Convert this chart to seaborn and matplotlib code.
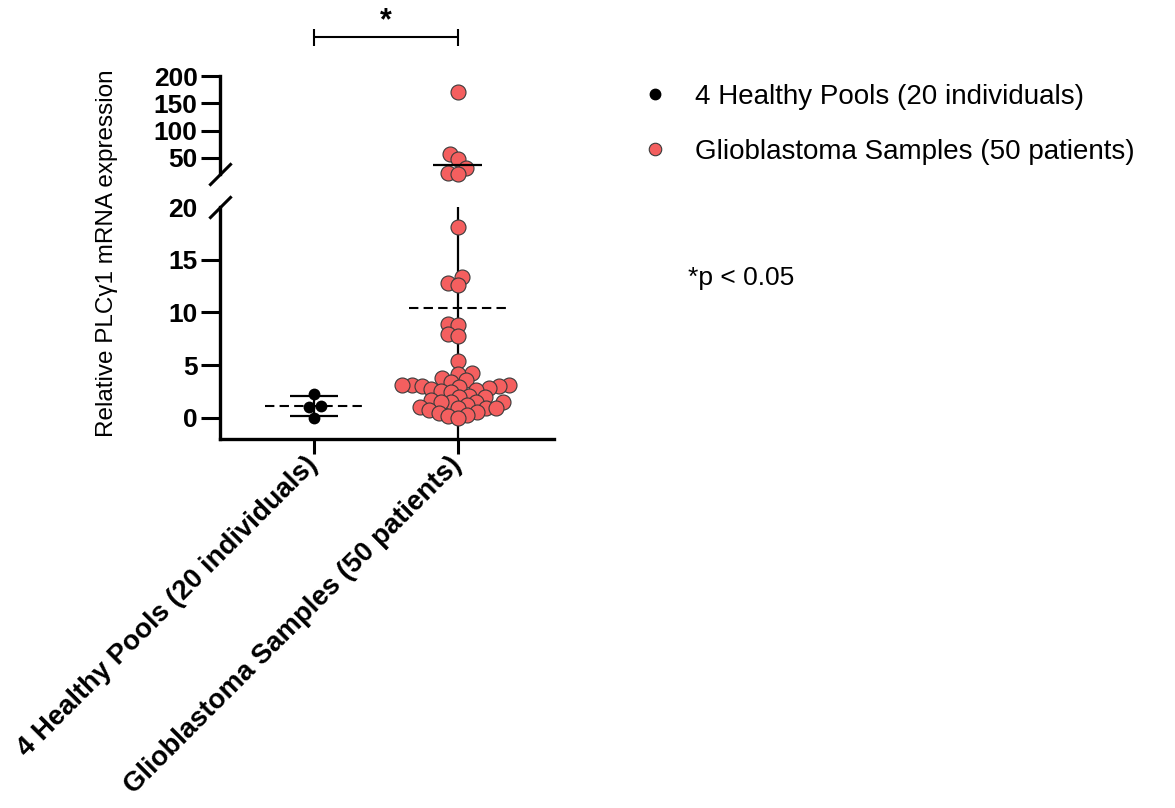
import numpy as np
import pandas as pd
import matplotlib
matplotlib.use("Agg")
import matplotlib.pyplot as plt
import matplotlib.transforms as mtransforms
from matplotlib.lines import Line2D
import seaborn as sns

# Data
CATEGORIES = ["4 Healthy Pools (20 individuals)", "Glioblastoma Samples (50 patients)"]
HEALTHY = [2.28, 1.15, 1.03, 0.0]
GLIOBLASTOMA = [171, 57, 48, 32, 23, 21,
                18.1, 13.4, 12.8, 12.6, 8.9, 8.85, 8.0, 7.8, 5.4,
                4.3, 4.2, 3.75, 3.6, 3.4, 3.1, 3.1, 3.0, 2.9, 3.0, 3.1,
                2.8, 2.75, 2.65, 2.55, 2.5, 2.1, 2.0, 2.0, 1.7,
                1.55, 1.5, 1.5, 1.55, 1.2, 1.05, 0.9, 0.9, 0.75, 0.55,
                0.9, 0.5, 0.3, 0.2, 0.0]
UPPER_TICKS = [50, 100, 150, 200]
LOWER_TICKS = [0, 5, 10, 15, 20]
BREAK_AT = 20

RED = "#F45F5F"
EDGE = "#3a3a3a"

df = pd.DataFrame({
    "group": [CATEGORIES[0]] * len(HEALTHY) + [CATEGORIES[1]] * len(GLIOBLASTOMA),
    "value": HEALTHY + GLIOBLASTOMA,
})

sns.set_style("ticks")
plt.rcParams["font.family"] = ["Liberation Sans", "DejaVu Sans"]
plt.rcParams.update({"text.color": "black", "axes.labelcolor": "black",
                     "xtick.color": "black", "ytick.color": "black",
                     "axes.edgecolor": "black"})

fig = plt.figure(figsize=(11.75, 8.08), dpi=100)
ax_top = fig.add_axes([0.1872, 0.7842, 0.2843, 0.1217])
ax_bot = fig.add_axes([0.1872, 0.4567, 0.2843, 0.2871])

# red dots overlap a bit, like the original column scatter:
# lay the swarm out with a smaller dot, then draw the dot bigger
red_swarms = []


def draw_points(ax, data):
    sns.swarmplot(data=data[data.group == CATEGORIES[0]], x="group", y="value",
                  order=CATEGORIES, color="black", size=8.5, linewidth=0, ax=ax)
    sns.swarmplot(data=data[data.group == CATEGORIES[1]], x="group", y="value",
                  order=CATEGORIES, color=RED, size=6.0, linewidth=0.8,
                  edgecolor=EDGE, ax=ax)
    red_swarms.append(ax.collections[-1])


draw_points(ax_top, df[df.value > BREAK_AT])
draw_points(ax_bot, df[df.value <= BREAK_AT])
for coll in ax_top.collections:
    coll.set_clip_on(False)

# mean (dashed) and SD (solid) for each group
for i, vals in enumerate([HEALTHY, GLIOBLASTOMA]):
    m = np.mean(vals)
    sd = np.std(vals, ddof=1)
    ax_bot.hlines(m, i - 0.34, i + 0.34, colors="black", lw=1.5,
                  linestyles=(0, (4.5, 2.5)), zorder=3)
    for ax in (ax_top, ax_bot):
        ax.vlines(i, m - sd, m + sd, colors="black", lw=1.6, zorder=0.9)
        ax.hlines([m - sd, m + sd], i - 0.17, i + 0.17, colors="black", lw=1.6, zorder=3)

xlim = (-0.653, 1.667)
for ax in (ax_top, ax_bot):
    ax.set_xlim(*xlim)
    ax.set_xlabel("")
    ax.set_ylabel("")
    for s in ["top", "right"]:
        ax.spines[s].set_visible(False)
    ax.spines["left"].set_linewidth(2.4)
    ax.tick_params(axis="y", length=14, width=2.2, labelsize=19, pad=2)

ax_top.set_ylim(BREAK_AT, 200)
ax_top.set_yticks(UPPER_TICKS)
ax_top.spines["bottom"].set_visible(False)
ax_top.tick_params(axis="x", bottom=False, labelbottom=False)

ax_bot.set_ylim(-2, BREAK_AT)
ax_bot.set_yticks(LOWER_TICKS)
ax_bot.yaxis.get_major_ticks()[-1].tick1line.set_visible(False)
ax_bot.spines["bottom"].set_linewidth(2.4)
ax_bot.tick_params(axis="x", length=11, width=2.2, pad=5)
ax_bot.set_xticks([0, 1])
ax_bot.set_xticklabels(CATEGORIES, rotation=45, ha="right", va="center",
                       rotation_mode="anchor", fontweight="bold", fontsize=19.8)

for ax in (ax_top, ax_bot):
    for lbl in ax.get_yticklabels():
        lbl.set_fontweight("bold")

# axis break marks
for ax, y in ((ax_top, 0), (ax_bot, 1)):
    ax.plot([0], [y], transform=ax.transAxes, marker=[(-1, -1), (1, 1)],
            markersize=16, linestyle="none", color="black", mec="black",
            mew=2.2, clip_on=False)

# significance bracket
trans = mtransforms.blended_transform_factory(ax_top.transData, ax_top.transAxes)
ax_top.plot([0, 1], [1.396, 1.396], color="black", lw=1.5, transform=trans, clip_on=False)
ax_top.vlines([0, 1], 1.305, 1.478, colors="black", lw=1.5, transform=trans, clip_on=False)
ax_top.text(0.5, 1.56, "*", transform=trans, ha="center", va="center",
            fontsize=22, fontweight="bold")

fig.text(107 / 1175, 1 - 253 / 808, "Relative PLC\u03b31 mRNA expression",
         rotation=90, ha="center", va="center", fontsize=17.5)

handles = [
    Line2D([], [], marker="o", ls="none", color="black", markersize=7.5),
    Line2D([], [], marker="o", ls="none", mfc=RED, mec=EDGE, mew=0.8, markersize=9),
]
fig.legend(handles, CATEGORIES, loc="upper left", bbox_to_anchor=(641 / 1175, 1 - 84 / 808),
           frameon=False, fontsize=20, handlelength=1.0, handletextpad=0.94,
           labelspacing=1.05, borderpad=0, borderaxespad=0)

fig.text(688 / 1175, 1 - 278 / 808, "*p < 0.05", ha="left", va="center", fontsize=19)

# run the swarm layout once, then keep those positions and enlarge the dots
fig.canvas.draw()
for coll in red_swarms:
    coll.__dict__.pop("draw", None)
    coll.set_sizes([10.8 ** 2])

fig.savefig("out.png", dpi=100)
